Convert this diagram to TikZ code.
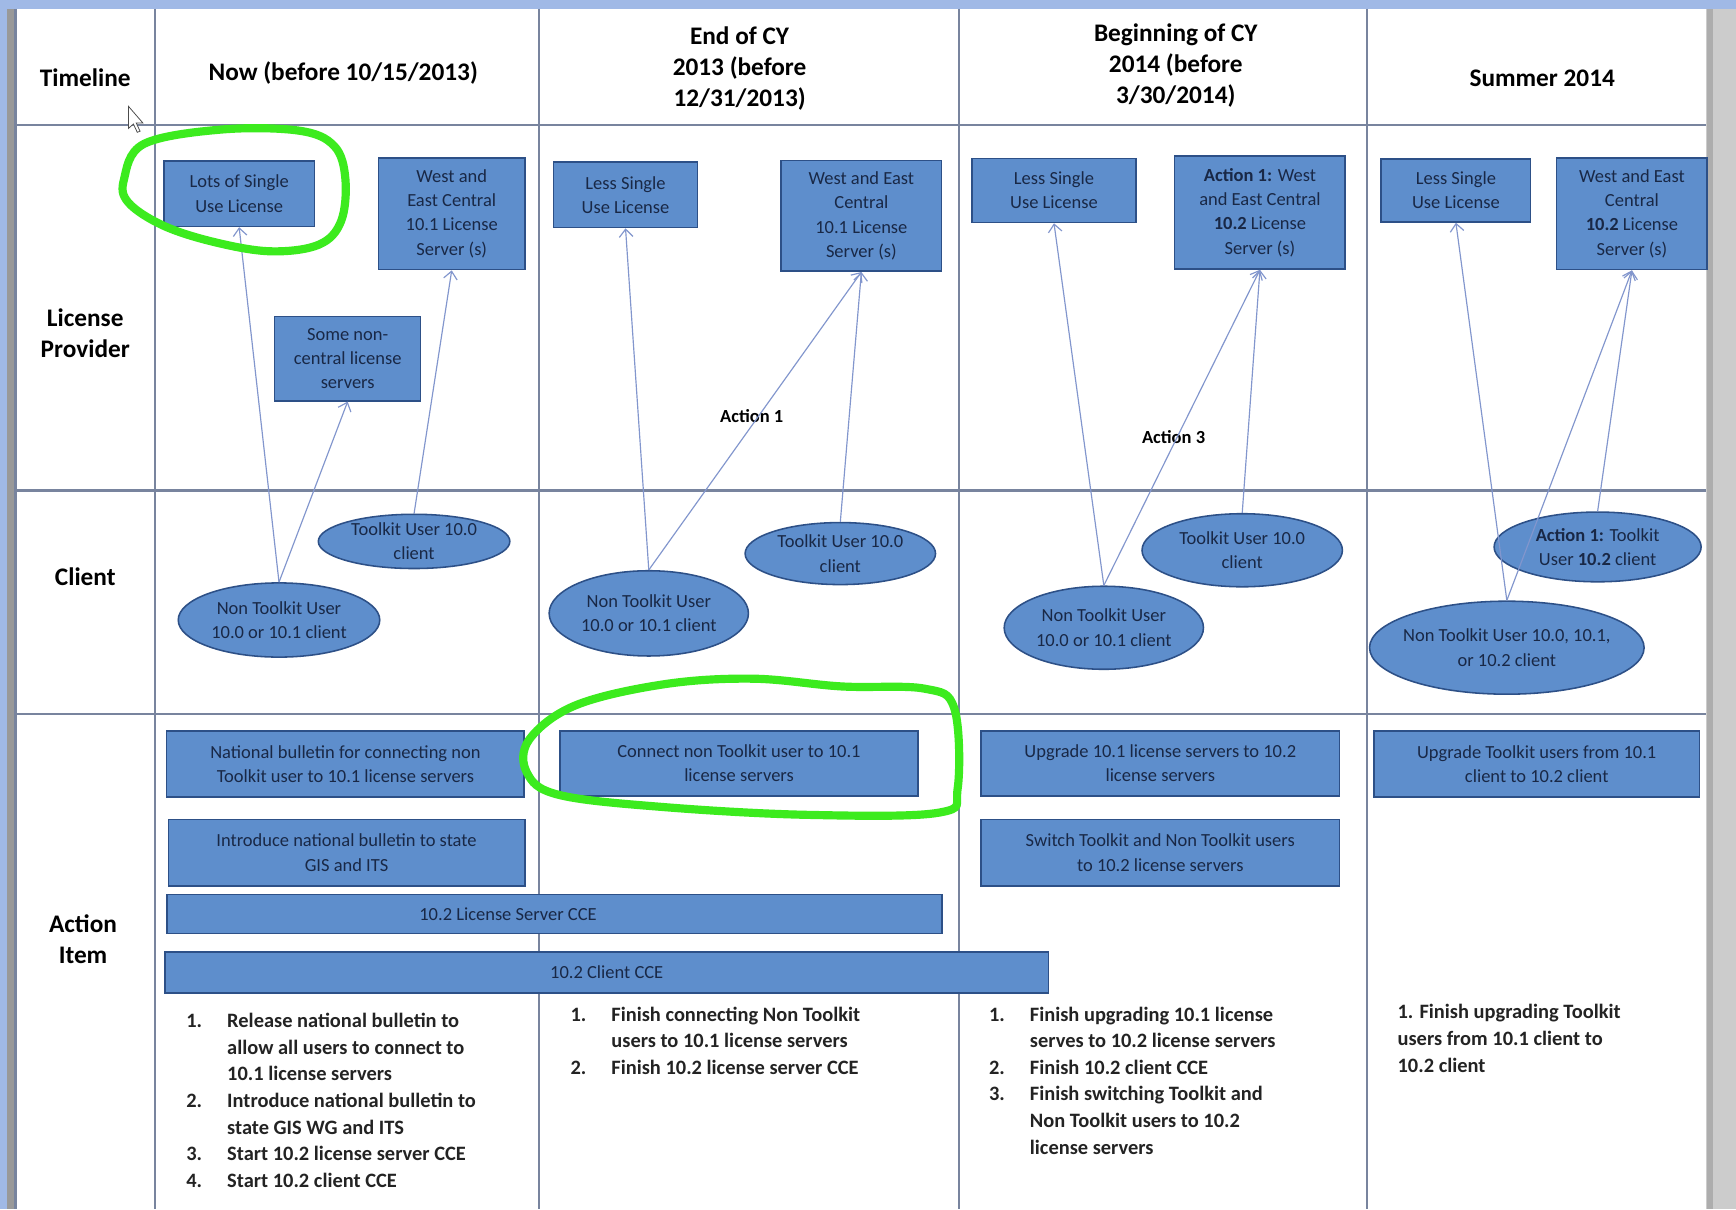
\documentclass[tikz,border=0pt]{standalone}
\usepackage{fontspec}
\setmainfont{Carlito}
\usetikzlibrary{shapes.geometric,arrows.meta}
\definecolor{boxfill}{RGB}{94,142,204}
\definecolor{boxline}{RGB}{45,80,135}
\definecolor{boxtext}{RGB}{25,40,70}
\definecolor{gridcol}{RGB}{120,132,158}
\definecolor{arrowcol}{RGB}{130,150,205}
\definecolor{markgreen}{RGB}{60,235,30}
\definecolor{barblue}{RGB}{160,185,230}
\definecolor{listtext}{RGB}{35,35,35}
\begin{document}
\begin{tikzpicture}[x=0.02cm,y=-0.02cm,
    boxsize/.style 2 args={minimum width=#1*0.02cm,minimum height=#2*0.02cm},
    box/.style={draw=boxline,fill=boxfill,line width=0.8pt,inner sep=0pt,align=center,text=boxtext,font=\fontsize{9.5}{12.5}\selectfont},
    oval/.style={box,ellipse,inner xsep=-12pt,inner ysep=-6pt},
    head/.style={align=center,inner sep=0pt,font=\bfseries\fontsize{13}{16}\selectfont},
    list/.style={anchor=north west,inner sep=0pt,align=left,text=listtext,font=\bfseries\fontsize{10.5}{13.7}\selectfont},
    conn/.style={draw=arrowcol,line width=0.6pt,-{Straight Barb[length=4pt,width=7pt]}},
    grid/.style={draw=gridcol,line width=1.1pt},
    greenloop/.style={draw=markgreen,line width=4.2pt,line cap=round}]
    \useasboundingbox (0,0) rectangle (1568,1092);

    \fill[white] (0,0) rectangle (1568,1092);
    \fill[barblue] (0,0) rectangle (1568,8);
    \fill[barblue] (0,0) rectangle (6,1092);
    \fill[black!40] (6,8) rectangle (14,1092);
    \fill[black!20] (1541,8) rectangle (1568,1092);
    \fill[black!32] (1542,8) rectangle (1547,1092);

    \draw[grid] (14,8) -- (14,1092);
    \draw[grid] (140,8) -- (140,1092);
    \draw[grid] (487,8) -- (487,1092);
    \draw[grid] (866,8) -- (866,1092);
    \draw[grid] (1235,8) -- (1235,1092);
    \draw[grid] (14,113) -- (1541,113);
    \draw[grid] (14,443) -- (1541,443);
    \draw[grid] (14,645) -- (1541,645);

    \node[head] (timeline) at (77,70) {Timeline};
    \node[head] (now) at (310,66) {Now (before 10/15/2013)};
    \node[head] (endcy) at (668,62) {End of CY\\2013 (before\\12/31/2013)};
    \node[head] (begincy) at (1062,59) {Beginning of CY\\2014 (before\\3/30/2014)};
    \node[head] (summer) at (1393,71) {Summer 2014};
    \node[head] (provider) at (77,301) {License\\Provider};
    \node[head] (client) at (77,521) {Client};
    \node[head] (action) at (75,848) {Action\\Item};

    \node[box,boxsize={136}{59}] (lots1) at (216,175) {Lots of Single\\Use License};
    \node[box,boxsize={132}{101}] (central1) at (408,193) {West and\\East Central\\10.1 License\\Server (s)};
    \node[box,boxsize={132}{76}] (noncentral1) at (314,324) {Some non-\\central license\\servers};
    \node[box,boxsize={130}{59}] (less2) at (565,176) {Less Single\\Use License};
    \node[box,boxsize={145}{100}] (central2) at (778,195) {West and East\\Central\\10.1 License\\Server (s)};
    \node[box,boxsize={148}{58}] (less3) at (952,172) {Less Single\\Use License};
    \node[box,boxsize={154}{102}] (central3) at (1138,192) {\textbf{Action 1:} West\\and East Central\\\textbf{10.2} License\\Server (s)};
    \node[box,boxsize={135}{57}] (less4) at (1315,172) {Less Single\\Use License};
    \node[box,boxsize={136}{101}] (central4) at (1474,193) {West and East\\Central\\\textbf{10.2} License\\Server (s)};

    \node[font=\bfseries\fontsize{9.5}{12}\selectfont] (act1) at (679,376) {Action 1};
    \node[font=\bfseries\fontsize{9.5}{12}\selectfont] (act3) at (1060,395) {Action 3};

    \node[oval,boxsize={173}{49}] (tk1) at (374,489) {Toolkit User 10.0\\client};
    \node[oval,boxsize={182}{67}] (nt1) at (252,560) {Non Toolkit User\\10.0 or 10.1 client};
    \node[oval,boxsize={172}{56}] (tk2) at (759,500) {Toolkit User 10.0\\client};
    \node[oval,boxsize={180}{77}] (nt2) at (586,554) {Non Toolkit User\\10.0 or 10.1 client};
    \node[oval,boxsize={181}{66}] (tk3) at (1122,497) {Toolkit User 10.0\\client};
    \node[oval,boxsize={180}{75}] (nt3) at (997,567) {Non Toolkit User\\10.0 or 10.1 client};
    \node[oval,boxsize={187}{63}] (tk4) at (1443,494) {\textbf{Action 1:} Toolkit\\User \textbf{10.2} client};
    \node[oval,boxsize={248}{84}] (nt4) at (1361,585) {Non Toolkit User 10.0, 10.1,\\or 10.2 client};

    \draw[conn] (nt1.north) -- (lots1.south);
    \draw[conn] (nt1.north) -- (noncentral1.south);
    \draw[conn] (tk1.north) -- (central1.south);
    \draw[conn] (nt2.north) -- (less2.south);
    \draw[conn] (nt2.north) -- (central2.south);
    \draw[conn] (tk2.north) -- (central2.south);
    \draw[conn] (nt3.north) -- (less3.south);
    \draw[conn] (nt3.north) -- (central3.south);
    \draw[conn] (tk3.north) -- (central3.south);
    \draw[conn] (nt4.north) -- (less4.south);
    \draw[conn] (nt4.north) -- (central4.south);
    \draw[conn] (tk4.north) -- (central4.south);

    \node[box,boxsize={323}{60}] (bulletin1) at (312,690) {National bulletin for connecting non\\Toolkit user to 10.1 license servers};
    \node[box,boxsize={322}{60}] (introduce1) at (313,770) {Introduce national bulletin to state\\GIS and ITS};
    \node[box,boxsize={700}{35}] (servercce) at (501,825.5) {\hspace*{-48pt}10.2 License Server CCE};
    \node[box,boxsize={798}{37}] (clientcce) at (548,878.5) {10.2 Client CCE};
    \node[box,boxsize={323}{59}] (connect2) at (667.5,689.5) {Connect non Toolkit user to 10.1\\license servers};
    \node[box,boxsize={324}{59}] (upgrade3) at (1048,689.5) {Upgrade 10.1 license servers to 10.2\\license servers};
    \node[box,boxsize={324}{60}] (switch3) at (1048,770) {Switch Toolkit and Non Toolkit users\\to 10.2 license servers};
    \node[box,boxsize={294}{60}] (upgrade4) at (1388,690) {Upgrade Toolkit users from 10.1\\client to 10.2 client};

    \node[list] (todo1) at (168,911) {\begin{tabular}{@{}p{21pt}@{}l@{}}
        1. & Release national bulletin to\\
           & allow all users to connect to\\
           & 10.1 license servers\\
        2. & Introduce national bulletin to\\
           & state GIS WG and ITS\\
        3. & Start 10.2 license server CCE\\
        4. & Start 10.2 client CCE
    \end{tabular}};
    \node[list] (todo2) at (515,905) {\begin{tabular}{@{}p{21pt}@{}l@{}}
        1. & Finish connecting Non Toolkit\\
           & users to 10.1 license servers\\
        2. & Finish 10.2 license server CCE
    \end{tabular}};
    \node[list] (todo3) at (893,905) {\begin{tabular}{@{}p{21pt}@{}l@{}}
        1. & Finish upgrading 10.1 license\\
           & serves to 10.2 license servers\\
        2. & Finish 10.2 client CCE\\
        3. & Finish switching Toolkit and\\
           & Non Toolkit users to 10.2\\
           & license servers
    \end{tabular}};
    \node[list] (todo4) at (1262,907) {1. Finish upgrading Toolkit\\users from 10.1 client to\\10.2 client};

    \draw[fill=white,draw=black!70,line width=0.4pt] (116,96) -- (116,116) -- (120.5,112) -- (124,119.5) -- (126.5,118.5) -- (123,111) -- (129,111) -- cycle;

    \draw[greenloop] plot[smooth cycle,tension=0.6] coordinates {(112,162) (130,130) (200,117) (270,118) (302,132) (312,162) (308,200) (288,221) (245,227) (195,219) (148,204) (116,183)};
    \draw[greenloop] plot[smooth cycle,tension=0.6] coordinates {(478,668) (520,637) (600,618) (680,613) (760,620) (835,622) (862,640) (865,712) (848,734) (730,736) (600,729) (505,718) (476,698)};
\end{tikzpicture}
\end{document}
